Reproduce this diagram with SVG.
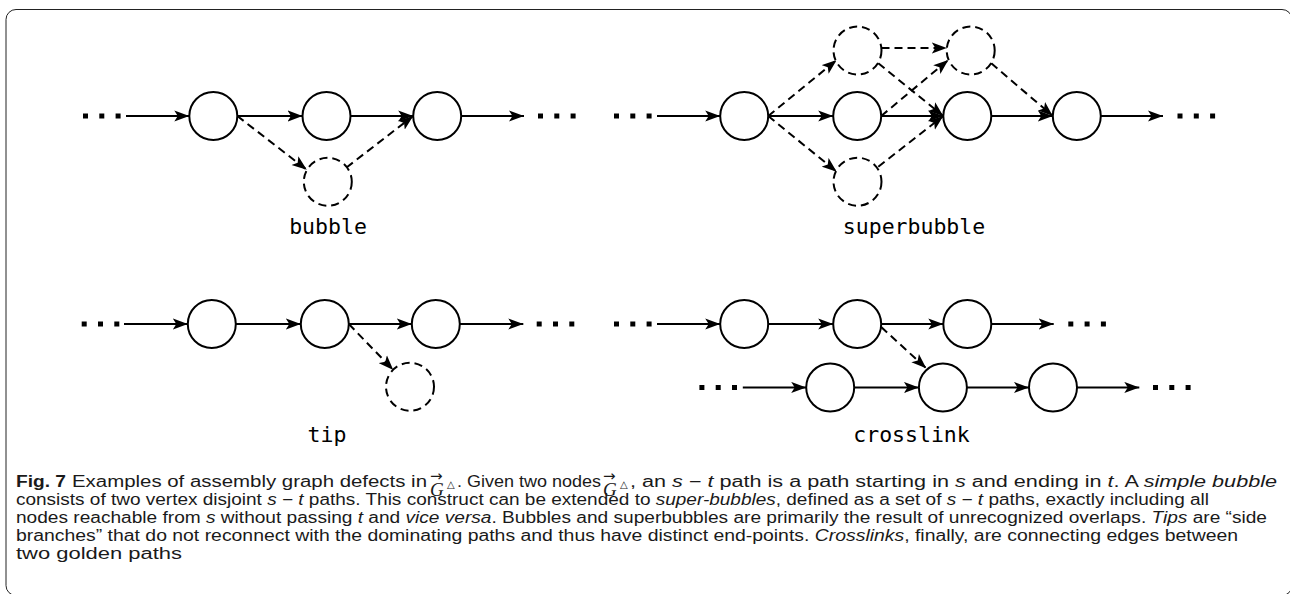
<svg xmlns="http://www.w3.org/2000/svg" width="1290" height="594" viewBox="0 0 1290 594">
<style>
.n{fill:#fff;stroke:#000;stroke-width:2}
.nd{fill:#fff;stroke:#000;stroke-width:2;stroke-dasharray:8 5}
.e{fill:none;stroke:#000;stroke-width:2;marker-end:url(#ah)}
.ed{fill:none;stroke:#000;stroke-width:2;stroke-dasharray:8 5;marker-end:url(#ah)}
.dots{fill:none;stroke:#000;stroke-width:5;stroke-dasharray:5 11.3}
.lbl{font-family:"DejaVu Sans Mono","Liberation Mono",monospace;font-size:21.5px;fill:#000;text-anchor:middle}
.cap{font-family:"Liberation Sans",Arial,sans-serif;font-size:16px;fill:#1a1a1a}
.it{font-style:italic}
.b{font-weight:bold}
.g{font-family:"Liberation Serif","DejaVu Serif",serif;font-style:italic;font-size:19px;fill:#1a1a1a}
.ga{font-family:"DejaVu Sans",sans-serif;font-size:15px;fill:#1a1a1a}
.tri{font-family:"DejaVu Sans",sans-serif;font-size:10px;fill:#1a1a1a}
</style>
<defs>
<marker id="ah" markerWidth="16" markerHeight="12" refX="15" refY="6" orient="auto" markerUnits="userSpaceOnUse"><path d="M0,0.4 L15,6 L0,11.6 L3.5,6 z" fill="#000"/></marker>
</defs>
<rect x="6" y="9.5" width="1286" height="586" rx="10" fill="none" stroke="#222" stroke-width="1"/>

<g id="connectors">
<!-- bubble -->
<path class="dots" d="M83,116 h38"/>
<path class="e" d="M126,116 H189.3"/>
<path class="e" d="M237.3,116 H302.5"/>
<path class="e" d="M350.5,116 H413.2"/>
<path class="e" d="M461.2,116 H524"/>
<path class="dots" d="M538,116 h38"/>
<path class="ed" d="M237.3,116 L306.8,169.8"/>
<path class="ed" d="M346.5,167.5 L413.2,116"/>
<!-- superbubble -->
<path class="dots" d="M614,116 h38"/>
<path class="e" d="M657,116 H720.2"/>
<path class="e" d="M768.2,116 H833.2"/>
<path class="e" d="M881.2,116 H943.3"/>
<path class="e" d="M991.3,116 H1052.8"/>
<path class="e" d="M1100.8,116 H1163"/>
<path class="dots" d="M1177.5,116 h38"/>
<path class="ed" d="M768.2,116 L836.7,60"/>
<path class="ed" d="M768.2,116 L836.7,171.7"/>
<path class="ed" d="M881.5,48 L946.8,48"/>
<path class="ed" d="M878.3,63.3 L943.3,116"/>
<path class="ed" d="M881.2,116 L948.3,60"/>
<path class="ed" d="M878.3,166.7 L943.3,116"/>
<path class="ed" d="M991.3,63.3 L1052.8,116"/>
<!-- tip -->
<path class="dots" d="M81.7,324 h38"/>
<path class="e" d="M124,324 H187.8"/>
<path class="e" d="M235.8,324 H300.8"/>
<path class="e" d="M348.8,324 H411.8"/>
<path class="e" d="M459.8,324 H523.3"/>
<path class="dots" d="M536.7,324 h38"/>
<path class="ed" d="M348.8,324 L393.3,370"/>
<!-- crosslink -->
<path class="dots" d="M614,324 h38"/>
<path class="e" d="M657,324 H720.2"/>
<path class="e" d="M768.2,324 H833.2"/>
<path class="e" d="M881.2,324 H943.3"/>
<path class="e" d="M991.3,324 H1053.7"/>
<path class="dots" d="M1068.3,324 h38"/>
<path class="dots" d="M699.4,387.5 h38"/>
<path class="e" d="M742.8,387.5 H806.2"/>
<path class="e" d="M854.2,387.5 H918.9"/>
<path class="e" d="M966.9,387.5 H1029"/>
<path class="e" d="M1077,387.5 H1139.3"/>
<path class="dots" d="M1153,387.5 h38"/>
<path class="ed" d="M881.2,327 L926.2,368.3"/>
</g>

<g id="bubble-n1"><circle class="n" cx="213.3" cy="116" r="24"/></g>
<g id="bubble-n2"><circle class="n" cx="326.5" cy="116" r="24"/></g>
<g id="bubble-n3"><circle class="n" cx="437.2" cy="116" r="24"/></g>
<g id="bubble-d1"><circle class="nd" cx="327.8" cy="181.8" r="24"/></g>

<g id="super-a"><circle class="n" cx="744.2" cy="116" r="24"/></g>
<g id="super-b"><circle class="n" cx="857.2" cy="116" r="24"/></g>
<g id="super-c"><circle class="n" cx="967.3" cy="116" r="24"/></g>
<g id="super-d"><circle class="n" cx="1076.8" cy="116" r="24"/></g>
<g id="super-e"><circle class="nd" cx="857.5" cy="50.5" r="24"/></g>
<g id="super-f"><circle class="nd" cx="970.7" cy="50.5" r="24"/></g>
<g id="super-g"><circle class="nd" cx="857.5" cy="181.7" r="24"/></g>

<g id="tip-n1"><circle class="n" cx="211.8" cy="324" r="24"/></g>
<g id="tip-n2"><circle class="n" cx="324.8" cy="324" r="24"/></g>
<g id="tip-n3"><circle class="n" cx="435.8" cy="324" r="24"/></g>
<g id="tip-d1"><circle class="nd" cx="410" cy="386.8" r="24"/></g>

<g id="cross-a"><circle class="n" cx="744.2" cy="324" r="24"/></g>
<g id="cross-b"><circle class="n" cx="857.2" cy="324" r="24"/></g>
<g id="cross-c"><circle class="n" cx="967.3" cy="324" r="24"/></g>
<g id="cross-d"><circle class="n" cx="830.2" cy="387.5" r="24"/></g>
<g id="cross-e"><circle class="n" cx="942.9" cy="387.5" r="24"/></g>
<g id="cross-f"><circle class="n" cx="1053" cy="387.5" r="24"/></g>

<g id="labels">
<text class="lbl" x="328" y="234">bubble</text>
<text class="lbl" x="914" y="234">superbubble</text>
<text class="lbl" x="327" y="442">tip</text>
<text class="lbl" x="911.5" y="442">crosslink</text>
</g>

<g id="caption">
<text class="cap b" x="16" y="487" textLength="50" lengthAdjust="spacingAndGlyphs">Fig. 7</text>
<text class="cap" x="72" y="487" textLength="355" lengthAdjust="spacingAndGlyphs">Examples of assembly graph defects in</text>
<text class="g" x="430" y="495.5">G</text>
<text class="ga" x="430" y="480.5">→</text>
<text class="tri" x="447" y="488">△</text>
<text class="cap" x="457" y="487" textLength="144" lengthAdjust="spacingAndGlyphs">. Given two nodes</text>
<text class="g" x="603" y="495.5">G</text>
<text class="ga" x="603" y="480.5">→</text>
<text class="tri" x="620" y="488">△</text>
<text class="cap" x="630" y="487" textLength="647" lengthAdjust="spacingAndGlyphs">, an <tspan class="it">s</tspan> − <tspan class="it">t</tspan> path is a path starting in <tspan class="it">s</tspan> and ending in <tspan class="it">t</tspan>. A <tspan class="it">simple bubble</tspan></text>
<text class="cap" x="16" y="505" textLength="1193" lengthAdjust="spacingAndGlyphs">consists of two vertex disjoint <tspan class="it">s</tspan> − <tspan class="it">t</tspan> paths. This construct can be extended to <tspan class="it">super-bubbles</tspan>, defined as a set of <tspan class="it">s</tspan> − <tspan class="it">t</tspan> paths, exactly including all</text>
<text class="cap" x="16" y="523" textLength="1251" lengthAdjust="spacingAndGlyphs">nodes reachable from <tspan class="it">s</tspan> without passing <tspan class="it">t</tspan> and <tspan class="it">vice versa</tspan>. Bubbles and superbubbles are primarily the result of unrecognized overlaps. <tspan class="it">Tips</tspan> are “side</text>
<text class="cap" x="16" y="541" textLength="1222" lengthAdjust="spacingAndGlyphs">branches” that do not reconnect with the dominating paths and thus have distinct end-points. <tspan class="it">Crosslinks</tspan>, finally, are connecting edges between</text>
<text class="cap" x="16" y="559" textLength="166" lengthAdjust="spacingAndGlyphs">two golden paths</text>
</g>
</svg>
